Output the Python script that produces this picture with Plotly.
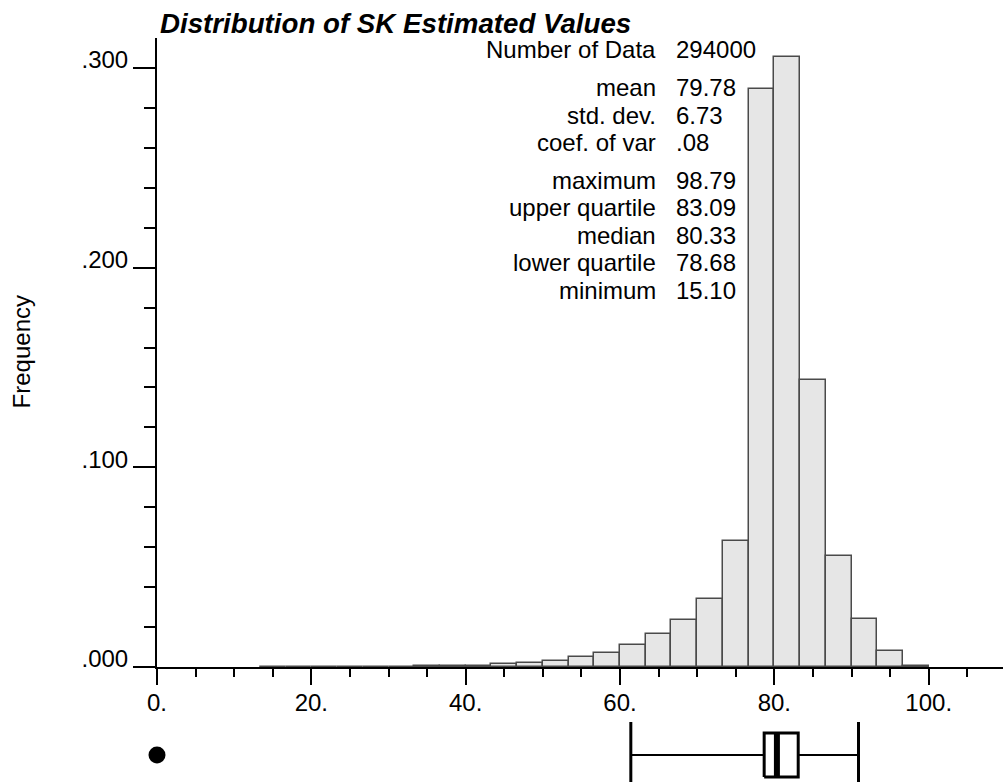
import plotly.graph_objects as go

# ---- histogram data: class width 10/3, relative frequencies ----
bin_width = 10.0 / 3.0
bin_index = list(range(4, 30))          # classes 13.3-16.7 ... 96.7-100
frequency = [
    0.00005, 0.00005, 0.0001, 0.0001, 0.0002, 0.0002, 0.0003, 0.0005,
    0.0007, 0.0013, 0.0020, 0.0032, 0.0050, 0.0070, 0.0110, 0.0167,
    0.0233, 0.0342, 0.0630, 0.2895, 0.3055, 0.1435, 0.0558, 0.0240,
    0.0082, 0.0005,
]
bin_centers = [(k + 0.5) * bin_width for k in bin_index]

# ---- summary statistics ----
stat_labels = ["Number of Data", "mean", "std. dev.", "coef. of var",
               "maximum", "upper quartile", "median", "lower quartile", "minimum"]
stat_values = ["294000", "79.78", "6.73", ".08",
               "98.79", "83.09", "80.33", "78.68", "15.10"]
stat_groups = [0, 1, 1, 1, 2, 2, 2, 2, 2]

# ---- box plot ----
box_low, box_q1, box_median, box_q3, box_high = 61.4, 78.68, 80.33, 83.09, 90.9
dot_x = [0.0]

# ---- axis ticks ----
x_tickvals = [0, 20, 40, 60, 80, 100]
x_ticktext = ["0.", "20.", "40.", "60.", "80.", "100."]
y_tickvals = [0.0, 0.1, 0.2, 0.3]
y_ticktext = [".000", ".100", ".200", ".300"]

# ---- page geometry (pixels) ----
W, H = 1003, 782
ML, MT = 157, 38
PLOT_W, PLOT_H = W - ML, H - MT
AXIS_Y = 667                      # pixel row of the x axis
PX_PER_X = 7.717
PX_PER_Y = 1996.7
FONT = "Liberation Sans, Arial, Helvetica, sans-serif"


def paper_x(px):
    return (px - ML) / PLOT_W


def paper_y(py):
    return (H - py) / PLOT_H


fig = go.Figure()

fig.add_trace(go.Bar(
    x=bin_centers, y=frequency, width=bin_width,
    marker=dict(color="#e6e6e6", line=dict(color="#4a4a4a", width=1.5)),
    xaxis="x", yaxis="y", hoverinfo="x+y",
))

# box plot row (y2 unit = 1 pixel, row centred at 0)
half_box, half_cap = 22, 33
fig.add_trace(go.Scatter(
    x=[box_low, box_q1, None, box_q3, box_high], y=[0, 0, None, 0, 0],
    mode="lines", line=dict(color="black", width=2), xaxis="x", yaxis="y2"))
fig.add_trace(go.Scatter(
    x=[box_low, box_low, None, box_high, box_high],
    y=[-half_cap, half_cap, None, -half_cap, half_cap],
    mode="lines", line=dict(color="black", width=3), xaxis="x", yaxis="y2"))
fig.add_trace(go.Scatter(
    x=[box_q1, box_q3, box_q3, box_q1, box_q1],
    y=[-half_box, -half_box, half_box, half_box, -half_box],
    mode="lines", fill="toself", fillcolor="white",
    line=dict(color="black", width=3), xaxis="x", yaxis="y2"))
fig.add_trace(go.Scatter(
    x=[box_median, box_median], y=[-half_box, half_box],
    mode="lines", line=dict(color="black", width=6), xaxis="x", yaxis="y2"))
fig.add_trace(go.Scatter(
    x=dot_x, y=[0], mode="markers", cliponaxis=False,
    marker=dict(color="black", size=17), xaxis="x", yaxis="y2"))

y_split = paper_y(AXIS_Y)
axis_common = dict(
    showline=True, linecolor="black", linewidth=2, showgrid=False,
    zeroline=False, ticks="outside", tickcolor="black", tickwidth=2,
    automargin=False,
    tickfont=dict(family=FONT, size=24, color="black"),
)

fig.update_layout(
    width=W, height=H,
    margin=dict(l=ML, r=0, t=MT, b=0, pad=0, autoexpand=False),
    paper_bgcolor="white", plot_bgcolor="white",
    showlegend=False, bargap=0,
    xaxis=dict(
        **axis_common,
        range=[0, PLOT_W / PX_PER_X], anchor="y", domain=[0, 1],
        tickmode="array", tickvals=x_tickvals, ticktext=x_ticktext,
        ticklen=16, ticklabelstandoff=-3,
        minor=dict(dtick=5, tick0=0, ticks="outside", ticklen=8,
                   tickwidth=2, tickcolor="black", showgrid=False),
    ),
    yaxis=dict(
        **axis_common,
        domain=[y_split, 1], range=[0, (AXIS_Y - MT) / PX_PER_Y],
        anchor="x",
        tickmode="array", tickvals=y_tickvals, ticktext=y_ticktext,
        ticklen=22, ticklabelshift=-8,
        minor=dict(dtick=0.02, tick0=0, ticks="outside", ticklen=11,
                   tickwidth=2, tickcolor="black", showgrid=False),
    ),
    yaxis2=dict(domain=[0, y_split], range=[-27, 88], visible=False,
                anchor="x", fixedrange=True, automargin=False),
)

annotations = [
    dict(text="<b><i>Distribution of SK Estimated Values</i></b>",
         xref="paper", yref="paper", x=paper_x(158), y=paper_y(23.5),
         xanchor="left", yanchor="middle", showarrow=False,
         font=dict(family=FONT, size=27.7, color="black")),
    dict(text="Frequency", textangle=-90,
         xref="paper", yref="paper", x=paper_x(21.7), y=paper_y(351.7),
         xanchor="center", yanchor="middle", showarrow=False,
         font=dict(family=FONT, size=24, color="black")),
]

row_y = 50.0
prev_group = stat_groups[0]
for label, value, group in zip(stat_labels, stat_values, stat_groups):
    if group != prev_group:
        row_y += 10.0
        prev_group = group
    annotations.append(dict(
        text=label, xref="paper", yref="paper", x=paper_x(658), y=paper_y(row_y),
        xanchor="right", yanchor="middle", showarrow=False,
        font=dict(family=FONT, size=24, color="black")))
    annotations.append(dict(
        text=value, xref="paper", yref="paper", x=paper_x(674), y=paper_y(row_y),
        xanchor="left", yanchor="middle", showarrow=False,
        font=dict(family=FONT, size=24, color="black")))
    row_y += 27.5

fig.update_layout(annotations=annotations)

fig.write_html("out.html")
